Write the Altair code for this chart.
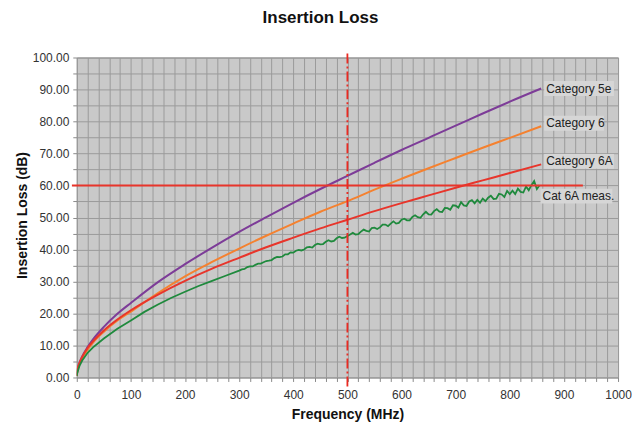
import altair as alt
import pandas as pd

FONT = "Liberation Sans"

# ---- data ----
std_freq = [0, 1, 5, 10, 20, 30, 50, 75, 100, 150, 200, 250, 300, 350, 400, 450, 500,
            550, 600, 650, 700, 750, 800, 858]
cat5e = [0.5, 2.0, 4.6, 6.6, 9.5, 11.9, 15.8, 19.9, 23.3, 29.8, 35.4, 40.6, 45.5, 50.1, 54.6,
         58.9, 63.0, 67.1, 71.1, 74.9, 78.7, 82.5, 86.2, 90.3]
cat6 = [0.5, 1.9, 4.2, 6.1, 8.7, 10.9, 14.3, 17.8, 20.6, 26.4, 31.6, 36.1, 40.3, 44.3, 48.1,
        51.8, 55.1, 58.7, 62.1, 65.4, 68.6, 71.8, 74.9, 78.5]
cat6a = [0.5, 2.2, 4.5, 6.4, 9.2, 11.3, 14.7, 18.1, 21.0, 25.9, 30.2, 34.0, 37.4, 40.7, 43.7,
         46.6, 49.3, 52.0, 54.5, 56.9, 59.3, 61.6, 63.9, 66.6]

meas_freq_low = [0, 1, 5, 10, 20, 30, 50, 75, 100, 125, 150, 175, 200, 225, 250, 275]
meas_db_low = [0.5, 1.5, 3.6, 5.3, 7.7, 9.4, 12.2, 15.2, 17.8, 20.5, 22.8, 24.9,
               26.8, 28.6, 30.2, 31.8]
meas_freq_high = list(range(300, 860, 5))
meas_db_high = [
    33.4, 33.8, 33.9, 34.5, 34.7, 34.7, 35.2, 35.6, 35.6, 36.0, 36.4,
    36.5, 36.7, 37.3, 37.7, 37.6, 37.8, 38.5, 38.5, 39.1, 39.0,
    39.6, 39.9, 39.7, 40.0, 40.7, 40.8, 40.6, 41.4, 41.8, 41.6,
    41.7, 42.4, 42.9, 42.5, 42.7, 43.5, 44.0, 43.6, 43.7, 44.2,
    44.7, 45.2, 44.7, 44.8, 45.6, 46.2, 45.8, 45.6, 46.7, 46.8,
    46.4, 46.9, 47.8, 47.8, 47.3, 48.1, 48.8, 48.1, 48.3, 49.3,
    49.6, 49.1, 49.1, 50.2, 50.7, 50.1, 49.9, 51.0, 51.8, 51.0,
    50.9, 52.0, 52.6, 51.8, 51.7, 53.0, 52.9, 52.4, 53.8, 53.7,
    53.1, 54.8, 53.8, 53.6, 55.0, 55.4, 54.4, 55.5, 54.6, 55.9,
    55.1, 56.2, 56.8, 55.8, 55.9, 57.4, 57.2, 56.4, 58.3, 57.3,
    58.4, 57.3, 59.0, 58.0, 57.8, 59.7, 58.5, 60.1, 61.4, 58.9, 60.1,
]

series_names = ["Category 5e", "Category 6", "Category 6A", "Cat 6A meas."]
series_colors = ["#7d3c98", "#f5812f", "#e8352b", "#1f8a3d"]

limit_db = [60]          # horizontal limit line
limit_freq_span = [-9, 935]
marker_freq = [500]      # vertical marker
marker_db_span = [-2.8, 101.3]

# label styling: (name, box width px, x offset, y offset)
label_style = [
    ("Category 5e", 70, 3, 0),
    ("Category 6", 60, 3, -3),
    ("Category 6A", 70, 3, -3),
    ("Cat 6A meas.", 72, 1, 11),
]

# ---- tables ----
rows = []
for name, vals in zip(series_names[:3], [cat5e, cat6, cat6a]):
    for f, v in zip(std_freq, vals):
        rows.append({"series": name, "freq": f, "db": v})
std_df = pd.DataFrame(rows)
meas_df = pd.DataFrame({
    "series": "Cat 6A meas.",
    "freq": meas_freq_low + meas_freq_high,
    "db": meas_db_low + meas_db_high,
})
df = pd.concat([std_df, meas_df], ignore_index=True)
ends = df.groupby("series", sort=False).tail(1).set_index("series")

xscale = alt.Scale(domain=[0, 1000], nice=False)
yscale = alt.Scale(domain=[0, 100], nice=False)

axis_common = dict(
    grid=True, gridColor="#9b9b9b", gridWidth=1, gridOpacity=1, domain=False,
    ticks=True, tickColor="#8a8a8a", tickSize=4,
    labelFont=FONT, labelFontSize=12, labelColor="#333333",
    labelOverlap=False, labelFlush=False,
    titleFont=FONT, titleFontSize=14, titleFontWeight="bold", titleColor="#111111",
)
xaxis = alt.Axis(
    values=list(range(0, 1001, 20)),
    labelExpr="datum.value % 100 === 0 ? datum.label : ''",
    format="d", labelPadding=8,
    title="Frequency (MHz)", titleY=41, titleBaseline="alphabetic",
    **axis_common,
)
yaxis = alt.Axis(
    values=list(range(0, 101, 5)),
    labelExpr="datum.value % 10 === 0 ? datum.label : ''",
    format=".2f", labelPadding=4,
    title="Insertion Loss (dB)", titleX=-54, titleY=158,
    titleAngle=270, titleAlign="center", titleBaseline="middle",
    **axis_common,
)


def X(field):
    return alt.X(field, type="quantitative", scale=xscale, axis=xaxis)


def Y(field):
    return alt.Y(field, type="quantitative", scale=yscale, axis=yaxis)


color = alt.Color("series:N", scale=alt.Scale(domain=series_names, range=series_colors), legend=None)

std_lines = alt.Chart(std_df).mark_line(strokeWidth=2, clip=True, interpolate="monotone").encode(
    x=X("freq"), y=Y("db"), color=color, order=alt.Order("freq:Q"), detail="series:N",
)
meas_line = alt.Chart(meas_df).mark_line(strokeWidth=1.8, clip=True).encode(
    x=X("freq"), y=Y("db"), color=color, order=alt.Order("freq:Q"),
)

hline = alt.Chart(pd.DataFrame({"x": [limit_freq_span[0]], "x2": [limit_freq_span[1]], "y": limit_db})).mark_rule(
    color="#e8352b", strokeWidth=2, clip=False
).encode(x=X("x"), x2="x2:Q", y=Y("y"))

vline = alt.Chart(pd.DataFrame({"x": marker_freq, "y": [marker_db_span[0]], "y2": [marker_db_span[1]]})).mark_rule(
    color="#ea2a22", strokeWidth=1.8, strokeDash=[10, 3, 2, 3], clip=False
).encode(x=X("x"), y=Y("y"), y2="y2:Q")

layers = [std_lines, meas_line, hline, vline]
for name, w, dx, dy in label_style:
    e = ends.loc[name]
    ldf = pd.DataFrame({"freq": [e["freq"]], "db": [e["db"]], "label": [name]})
    u = w / 10.0
    path = f"M0,-0.75L{u},-0.75L{u},0.75L0,0.75Z"
    box = alt.Chart(ldf).mark_point(
        shape=path, size=400, filled=True, fill="#d6d6d6", opacity=1,
        strokeWidth=0, xOffset=dx, yOffset=dy, clip=False
    ).encode(x=X("freq"), y=Y("db"))
    txt = alt.Chart(ldf).mark_text(
        align="left", baseline="middle", dx=dx + 2, dy=dy, font=FONT,
        fontSize=12, color="#222222", clip=False
    ).encode(x=X("freq"), y=Y("db"), text="label:N")
    layers += [box, txt]

chart = alt.layer(*layers).properties(
    width=543, height=321,
    title=alt.TitleParams("Insertion Loss", fontSize=17, fontWeight="bold", font=FONT,
                          anchor="middle", dx=-27, offset=25, frame="group", color="#111111"),
    autosize=alt.AutoSizeParams(type="none"),
    padding={"left": 69, "top": 49, "right": 14, "bottom": 44},
).configure_view(
    fill="#c9c9c9", stroke="#8a8a8a", strokeWidth=1
)

chart.save("out.html", embed_options={"renderer": "svg", "actions": False})
